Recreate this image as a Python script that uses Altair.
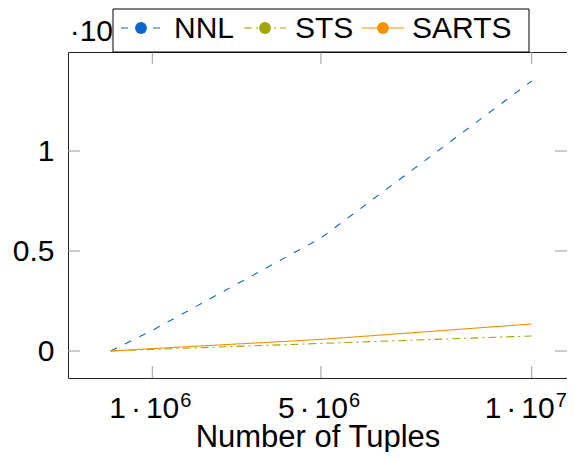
import altair as alt
import pandas as pd

# ---- data ----
x_values = [1e4, 1e6, 5e6, 1e7]
nnl = [0.0, 0.103, 0.565, 1.35]
sts = [0.0, 0.008, 0.038, 0.075]
sarts = [0.0, 0.012, 0.058, 0.135]
series = ["NNL", "STS", "SARTS"]
colors = ["#0b66c6", "#9fa700", "#f39200"]
dashes = [[7, 9], [8, 4, 2, 4], [1, 0]]
x_ticks = [1e6, 5e6, 1e7]
x_tick_base = ["1\u2006·\u200610", "5\u2006·\u200610", "1\u2006·\u200610"]
x_tick_exp = ["6", "6", "7"]
y_ticks = [0, 0.5, 1]
y_tick_labels = ["0", "0.5", "1"]
x_title = "Number of Tuples"
scale_label = "·10"

FONT = "Liberation Sans"
FS = 30
W, H = 499, 326

rows = []
for name, vals in zip(series, [nnl, sts, sarts]):
    for i, (xv, yv) in enumerate(zip(x_values, vals)):
        rows.append({"series": name, "x": xv, "y": yv, "i": i})
df = pd.DataFrame(rows)

def label_expr(vals, labels):
    expr = "''"
    for v, l in reversed(list(zip(vals, labels))):
        expr = f"(abs(datum.value - {v}) < 1e-9 ? '{l}' : {expr})"
    return expr

x_scale = alt.Scale(domain=[-1e6, 1.0837e7], nice=False, zero=False)
y_scale = alt.Scale(domain=[-0.135, 1.495], nice=False, zero=False)

lines = alt.Chart(df).mark_line(strokeWidth=1.1, clip=True).encode(
    x=alt.X("x:Q", scale=x_scale,
            axis=alt.Axis(values=x_ticks, labels=False, ticks=False, tickSize=0,
                          domain=False, grid=False, labelPadding=0,
                          title=x_title, titleFontSize=31, titleFont=FONT,
                          titleFontWeight="normal", titleColor="black",
                          titlePadding=44)),
    y=alt.Y("y:Q", scale=y_scale,
            axis=alt.Axis(values=y_ticks, labelExpr=label_expr(y_ticks, y_tick_labels),
                          ticks=False, tickSize=0, domain=False, grid=False,
                          labelFontSize=FS, labelPadding=14, labelFont=FONT,
                          labelColor="black", title=None)),
    color=alt.Color("series:N", scale=alt.Scale(domain=series, range=colors), legend=None),
    strokeDash=alt.StrokeDash("series:N", scale=alt.Scale(domain=series, range=dashes), legend=None),
    order="i:Q",
)

xt = pd.DataFrame({"v": x_ticks, "base": x_tick_base, "exp": x_tick_exp})
yt = pd.DataFrame({"v": y_ticks})
tick_color = "#9a9a9a"
xt_bottom = alt.Chart(xt).mark_rule(color=tick_color, strokeWidth=1).encode(
    x="v:Q", y=alt.value(H), y2=alt.value(H - 12))
xt_top = alt.Chart(xt).mark_rule(color=tick_color, strokeWidth=1).encode(
    x="v:Q", y=alt.value(0), y2=alt.value(12))
yt_left = alt.Chart(yt).mark_rule(color=tick_color, strokeWidth=1).encode(
    y="v:Q", x=alt.value(0), x2=alt.value(12))
yt_right = alt.Chart(yt).mark_rule(color=tick_color, strokeWidth=1).encode(
    y="v:Q", x=alt.value(W), x2=alt.value(W - 12))

# x tick labels with real superscripts (last one nudged so it stays inside the page)
def xlabels(filter_expr, dx):
    base = alt.Chart(xt).transform_filter(filter_expr).mark_text(
        align="right", baseline="alphabetic", fontSize=FS, font=FONT, color="black",
        dx=dx).encode(x="v:Q", y=alt.value(366), text="base:N")
    exp = alt.Chart(xt).transform_filter(filter_expr).mark_text(
        align="left", baseline="alphabetic", fontSize=20, font=FONT, color="black",
        dx=dx + 1).encode(x="v:Q", y=alt.value(355), text="exp:N")
    return [base, exp]

xlab_layers = xlabels("datum.v < 9e6", 27) + xlabels("datum.v >= 9e6", 23)

one = pd.DataFrame({"t": [scale_label]})
scale_txt = alt.Chart(one).mark_text(align="right", baseline="alphabetic", fontSize=FS,
                                     font=FONT, color="black").encode(
    x=alt.value(45), y=alt.value(-11), text="t:N")

# legend (decoration)
leg_box = alt.Chart(one).mark_rect(fill="white", stroke="black", strokeWidth=1).encode(
    x=alt.value(45), x2=alt.value(461), y=alt.value(-43), y2=alt.value(0))
leg_layout = {"NNL": (53, 93, 106), "STS": (176, 218, 227), "SARTS": (294, 336, 344)}
leg_layers = []
for name, col, dash in zip(series, colors, dashes):
    x0, x1, xt_ = leg_layout[name]
    d = pd.DataFrame({"series": [name]})
    leg_layers.append(alt.Chart(d).mark_rule(color=col, strokeWidth=1.1, strokeDash=dash).encode(
        x=alt.value(x0), x2=alt.value(x1), y=alt.value(-24)))
    leg_layers.append(alt.Chart(d).mark_point(filled=True, shape="circle", size=140,
                                              color=col, opacity=1).encode(
        x=alt.value((x0 + x1) / 2), y=alt.value(-24)))
    leg_layers.append(alt.Chart(d).mark_text(align="left", baseline="alphabetic", fontSize=FS,
                                             font=FONT, color="black").encode(
        x=alt.value(xt_), y=alt.value(-14), text="series:N"))

chart = alt.layer(lines, xt_bottom, xt_top, yt_left, yt_right, *xlab_layers,
                  scale_txt, leg_box, *leg_layers).properties(
    width=W, height=H,
    autosize=alt.AutoSizeParams(type="none"),
    padding={"left": 60, "top": 44, "right": 0, "bottom": 74},
).configure(font=FONT).configure_view(stroke="#222", strokeWidth=1)

chart.save("out.html", embed_options={"renderer": "svg", "actions": False})
